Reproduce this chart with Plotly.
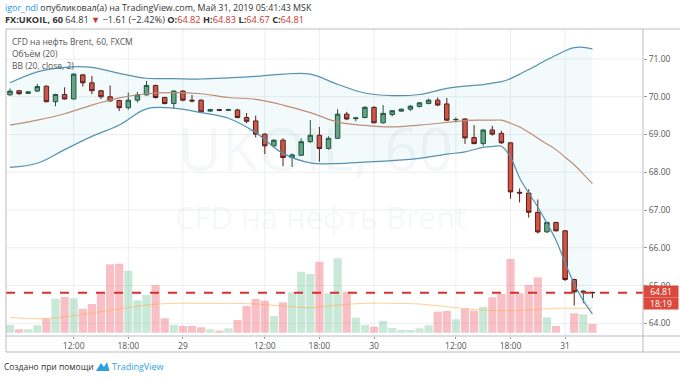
import plotly.graph_objects as go

# ---------------- data ----------------
opens = [70.05, 70.16, 70.09, 70.15, 70.28, 69.87, 70.06, 69.94, 70.58, 70.37,
         70.16, 70.00, 69.90, 69.71, 69.91, 70.05, 70.30, 69.98, 69.82, 70.15,
         69.91, 69.91, 69.62, 69.66, 69.64, 69.65, 69.45, 69.36, 69.01, 68.70,
         68.85, 68.39, 68.45, 68.81, 68.98, 68.63, 68.90, 69.54, 69.42, 69.45,
         69.72, 69.31, 69.53, 69.62, 69.67, 69.74, 69.82, 69.91, 69.81, 69.39,
         69.41, 68.92, 68.76, 69.12, 69.03, 68.78, 67.47, 67.45, 66.94, 66.42,
         66.67, 66.45, 65.16, 64.82, 64.82]
highs = [70.22, 70.18, 70.15, 70.34, 70.30, 70.08, 70.25, 70.62, 70.60, 70.55,
         70.18, 70.30, 69.92, 70.11, 70.13, 70.42, 70.32, 70.00, 70.17, 70.17,
         70.05, 69.93, 69.68, 69.68, 69.68, 69.68, 69.57, 69.50, 69.03, 68.87,
         68.90, 68.50, 68.90, 69.38, 69.20, 68.95, 69.67, 69.60, 69.46, 69.75,
         69.75, 69.78, 69.65, 69.69, 69.78, 69.86, 69.95, 69.98, 69.97, 69.45,
         69.43, 69.25, 69.14, 69.23, 69.10, 68.80, 67.57, 67.55, 67.28, 66.69,
         66.69, 66.47, 65.18, 64.88, 64.83]
lows = [70.03, 70.05, 70.07, 70.13, 69.85, 69.75, 69.93, 69.93, 70.27, 70.07,
        69.94, 69.87, 69.62, 69.66, 69.85, 70.03, 69.95, 69.80, 69.68, 69.88,
        69.85, 69.58, 69.60, 69.62, 69.62, 69.43, 69.30, 68.92, 68.48, 68.68,
        68.16, 68.14, 68.43, 68.78, 68.28, 68.60, 68.88, 69.38, 69.35, 69.43,
        69.30, 69.29, 69.48, 69.60, 69.62, 69.72, 69.80, 69.75, 69.36, 69.32,
        68.75, 68.74, 68.70, 68.97, 68.75, 67.30, 67.20, 66.80, 66.38, 66.40,
        66.43, 65.12, 64.47, 64.53, 64.67]
closes = [70.15, 70.08, 70.13, 70.27, 69.87, 70.06, 69.94, 70.60, 70.37, 70.16,
          70.00, 69.89, 69.71, 69.91, 70.05, 70.30, 69.98, 69.82, 70.15, 69.91,
          69.89, 69.60, 69.66, 69.64, 69.66, 69.45, 69.35, 69.01, 68.70, 68.85,
          68.39, 68.46, 68.81, 68.98, 68.63, 68.90, 69.54, 69.41, 69.44, 69.72,
          69.31, 69.56, 69.63, 69.67, 69.75, 69.84, 69.91, 69.78, 69.38, 69.40,
          68.91, 68.76, 69.12, 69.01, 68.78, 67.48, 67.45, 66.94, 66.42, 66.67,
          66.45, 65.16, 64.83, 64.85, 64.81]
volumes = [7.7, 3.4, 3.4, 7.4, 14, 34, 35.7, 34.4, 24, 28.7,
           39.4, 68.4, 69, 62, 32.4, 37.7, 47.7, 14.4, 7.7, 6.7,
           6.7, 5.4, 3.4, 2, 4.4, 12.7, 26.7, 33.7, 32, 16.7,
           30.4, 40.4, 61, 58.7, 71, 39.4, 74.4, 41, 15, 7.7,
           6, 11.7, 4.7, 2.7, 2.7, 4.4, 7.4, 21, 21.7, 13.4,
           24, 22, 26, 35.4, 38.7, 73.7, 39.4, 47.7, 55.4, 15.4,
           6.7, 0, 19.4, 18.4, 8.7]

vma_idx = [0, 3, 6, 9, 12, 15, 18, 21, 24, 27, 30, 33, 36, 39, 42, 45, 48, 51, 54, 57, 60, 62, 64]
vma_val = [15.4, 14, 15.7, 19.7, 23.7, 27.7, 29.4, 29.4, 29.4, 28.7, 26.7, 25, 27.7, 29.4,
           29.4, 28.7, 26, 23.2, 22, 22.7, 24.4, 24.4, 24.4]

bb_idx = [0, 3, 6, 9, 12, 15, 18, 21, 24, 27, 30, 33, 36, 39, 42, 45, 48, 50, 52, 53, 54,
          55, 56, 57, 58, 59, 60, 61, 62, 63, 64]
bb_upper = [70.37, 70.66, 70.78, 70.78, 70.62, 70.49, 70.48, 70.47, 70.50, 70.54, 70.60,
            70.60, 70.33, 70.10, 70.03, 70.06, 70.22, 70.28, 70.32, 70.36, 70.40,
            70.48, 70.60, 70.72, 70.85, 70.98, 71.10, 71.22, 71.30, 71.31, 71.27]
bb_basis = [69.25, 69.38, 69.55, 69.78, 69.97, 70.08, 70.11, 70.08, 69.98, 69.93, 69.78,
            69.58, 69.33, 69.24, 69.20, 69.25, 69.32, 69.37, 69.38, 69.38, 69.38,
            69.30, 69.20, 69.06, 68.90, 68.75, 68.60, 68.40, 68.20, 67.95, 67.70]
bb_lower = [68.13, 68.24, 68.60, 68.95, 69.25, 69.68, 69.70, 69.58, 69.43, 69.05, 68.50,
            68.25, 68.23, 68.27, 68.31, 68.37, 68.48, 68.54, 68.66, 68.68, 68.69,
            68.40, 67.85, 67.45, 67.08, 66.65, 66.20, 65.60, 65.05, 64.60, 64.25]

tick_idx = [7, 13, 19, 28, 34, 40, 49, 55, 61]
tick_txt = ["12:00", "18:00", "29", "12:00", "18:00", "30", "12:00", "18:00", "31"]
price_ticks = [64, 65, 66, 67, 68, 69, 70, 71]

# ---------------- layout geometry ----------------
W, H = 680, 378
L, R, T, B = 6, 37, 29, 42
PW, PH = W - L - R, H - T - B


def px(x):
    return (x - L) / PW


def py(y):
    return (H - B - y) / PH


idx = list(range(len(closes)))
up_col, dn_col = "#6ba583", "#d75442"
vol_cols = ["rgba(83,185,135,0.32)" if c >= o else "rgba(235,77,92,0.36)"
            for o, c in zip(opens, closes)]

fig = go.Figure()

# volume (bottom layer, axis y)
fig.add_trace(go.Bar(x=idx, y=volumes, marker=dict(color=vol_cols, line=dict(width=0)),
                     width=0.9, yaxis="y", showlegend=False, hoverinfo="skip"))
fig.add_trace(go.Scatter(x=vma_idx, y=vma_val, mode="lines", yaxis="y",
                         line=dict(color="rgba(255,170,60,0.55)", width=1, shape="spline"),
                         showlegend=False, hoverinfo="skip"))

# Bollinger bands (price axis y2)
fig.add_trace(go.Scatter(x=bb_idx, y=bb_upper, mode="lines", yaxis="y2",
                         line=dict(color="#5592b0", width=1.2, shape="spline"),
                         showlegend=False, hoverinfo="skip"))
fig.add_trace(go.Scatter(x=bb_idx, y=bb_lower, mode="lines", yaxis="y2", fill="tonexty",
                         fillcolor="rgba(0,150,190,0.05)",
                         line=dict(color="#5592b0", width=1.2, shape="spline"),
                         showlegend=False, hoverinfo="skip"))
fig.add_trace(go.Scatter(x=bb_idx, y=bb_basis, mode="lines", yaxis="y2",
                         line=dict(color="#bf8d74", width=1.2, shape="spline"),
                         showlegend=False, hoverinfo="skip"))

# candles
fig.add_trace(go.Candlestick(x=idx, open=opens, high=highs, low=lows, close=closes,
                             yaxis="y2", showlegend=False, whiskerwidth=0,
                             increasing=dict(fillcolor=up_col, line=dict(color="#225437", width=1)),
                             decreasing=dict(fillcolor=dn_col, line=dict(color="#5b1a13", width=1))))

last = closes[-1]
grid = "#eceef1"
frame = "#b8bbbf"
shapes = []
for t in tick_idx:
    shapes.append(dict(type="line", xref="x", yref="paper", x0=t, x1=t, y0=0, y1=1,
                       line=dict(color=grid, width=1), layer="below"))
for p in price_ticks:
    shapes.append(dict(type="line", xref="paper", yref="y2", x0=0, x1=1, y0=p, y1=p,
                       line=dict(color=grid, width=1), layer="below"))
shapes.append(dict(type="line", xref="paper", yref="y2", x0=0, x1=1, y0=last, y1=last,
                   line=dict(color="#d8302f", width=2, dash="dash")))
# frames
shapes += [
    dict(type="rect", xref="paper", yref="paper", x0=0, x1=1, y0=0, y1=1,
         line=dict(color=frame, width=1)),
    dict(type="line", xref="paper", yref="paper", x0=1, x1=px(W), y0=1, y1=1,
         line=dict(color=frame, width=1)),
    dict(type="line", xref="paper", yref="paper", x0=1, x1=px(W), y0=0, y1=0,
         line=dict(color=frame, width=1)),
    dict(type="line", xref="paper", yref="paper", x0=1, x1=1, y0=py(352), y1=0,
         line=dict(color=frame, width=1)),
    dict(type="line", xref="paper", yref="paper", x0=0, x1=0, y0=py(352), y1=0,
         line=dict(color=frame, width=1)),
    dict(type="line", xref="paper", yref="paper", x0=0, x1=px(W), y0=py(352), y1=py(352),
         line=dict(color=frame, width=1)),
]
# small TradingView logo
shapes.append(dict(type="path", xref="paper", yref="paper", fillcolor="#2e9fe0",
                   line=dict(width=0),
                   path=f"M {px(96)} {py(371)} L {px(101)} {py(363)} L {px(104)} {py(367)} "
                        f"L {px(107)} {py(362)} L {px(109.5)} {py(371)} Z"))

FONT = "Open Sans"
ann = []
ann.append(dict(xref="paper", yref="paper", x=px(3), y=py(8), xanchor="left", yanchor="middle",
                showarrow=False, font=dict(family=FONT, size=8.9, color="#333"),
                text='<span style="color:#2196f3">igor_ndl</span> опубликовал(а) на '
                     'TradingView.com, Май 31, 2019 05:41:43 MSK'))
red = "#c8372d"
ann.append(dict(xref="paper", yref="paper", x=px(3), y=py(20), xanchor="left", yanchor="middle",
                showarrow=False, font=dict(family=FONT, size=9.2, color="#333"),
                text=f'<b>FX:UKOIL, 60</b> {last:.2f} <span style="color:{red}">▼</span> '
                     f'−1.61 (−2.42%) <b>O:</b><span style="color:{red}">{opens[-1]:.2f}</span> '
                     f'<b>H:</b><span style="color:{red}">{highs[-1]:.2f}</span> '
                     f'<b>L:</b><span style="color:{red}">{lows[-1]:.2f}</span> '
                     f'<b>C:</b><span style="color:{red}">{closes[-1]:.2f}</span>'))
for txt, yy in [("CFD на нефть Brent, 60, FXCM", 41), ("Объём (20)", 53), ("BB (20, close, 2)", 65)]:
    ann.append(dict(xref="paper", yref="paper", x=px(10), y=py(yy), xanchor="left",
                    yanchor="middle", showarrow=False,
                    font=dict(family=FONT, size=8.5, color="#555"), text=txt))
# watermark
ann.append(dict(xref="paper", yref="paper", x=px(315), y=py(148), showarrow=False,
                font=dict(family=FONT, size=60, color="rgba(120,135,155,0.07)"),
                text="UKOIL, 60"))
ann.append(dict(xref="paper", yref="paper", x=px(320), y=py(217), showarrow=False,
                font=dict(family=FONT, size=31, color="rgba(120,135,155,0.07)"),
                text="CFD на нефть Brent"))
# price labels on the axis
ann.append(dict(xref="paper", yref="paper", x=1, y=py(291), xanchor="left", yanchor="middle",
                showarrow=False, bgcolor="#d9493c", borderpad=0, width=34, height=11,
                font=dict(family=FONT, size=8.5, color="white"), text=f"{last:.2f}"))
ann.append(dict(xref="paper", yref="paper", x=1, y=py(303.5), xanchor="left", yanchor="middle",
                showarrow=False, bgcolor="#d9493c", borderpad=0, width=34, height=11,
                font=dict(family=FONT, size=8.5, color="white"), text="18:19"))
# credits
ann.append(dict(xref="paper", yref="paper", x=px(2), y=py(366), xanchor="left", yanchor="middle",
                showarrow=False, font=dict(family=FONT, size=8.5, color="#333"),
                text="Создано при помощи"))
ann.append(dict(xref="paper", yref="paper", x=px(110), y=py(366), xanchor="left", yanchor="middle",
                showarrow=False, font=dict(family=FONT, size=9, color="#2e9fe0"),
                text="TradingView"))

# price axis range in pixels: 71 -> y59, 64 -> y323.3
ppu = (323.3 - 59) / 7
p_top = 71 + (59 - T) / ppu
p_bot = 64 - (H - B - 323.3) / ppu
v_bot = -((H - B) - 332.7)
v_top = 332.7 - T

fig.update_layout(
    width=W, height=H, margin=dict(l=L, r=R, t=T, b=B),
    paper_bgcolor="white", plot_bgcolor="white", showlegend=False,
    xaxis=dict(range=[-0.44, 69.56], tickmode="array", tickvals=tick_idx,
               ticktext=tick_txt, showgrid=False, zeroline=False, ticks="outside", ticklen=2,
               tickcolor="#999", tickfont=dict(family=FONT, size=8.5, color="#555"),
               rangeslider=dict(visible=False), fixedrange=True, automargin=False),
    yaxis=dict(range=[v_bot, v_top], visible=False, fixedrange=True),
    yaxis2=dict(range=[p_bot, p_top], overlaying="y", side="right", tickmode="array",
                tickvals=price_ticks, tickformat=".2f", showgrid=False, zeroline=False,
                ticks="outside", ticklen=3, tickcolor="#999", automargin=False,
                tickfont=dict(family=FONT, size=8.5, color="#555"), fixedrange=True),
    shapes=shapes, annotations=ann, bargap=0.08,
)

fig.write_html("out.html", config={"displayModeBar": False},
               post_script="document.body.style.margin='0';document.body.style.padding='0';")
